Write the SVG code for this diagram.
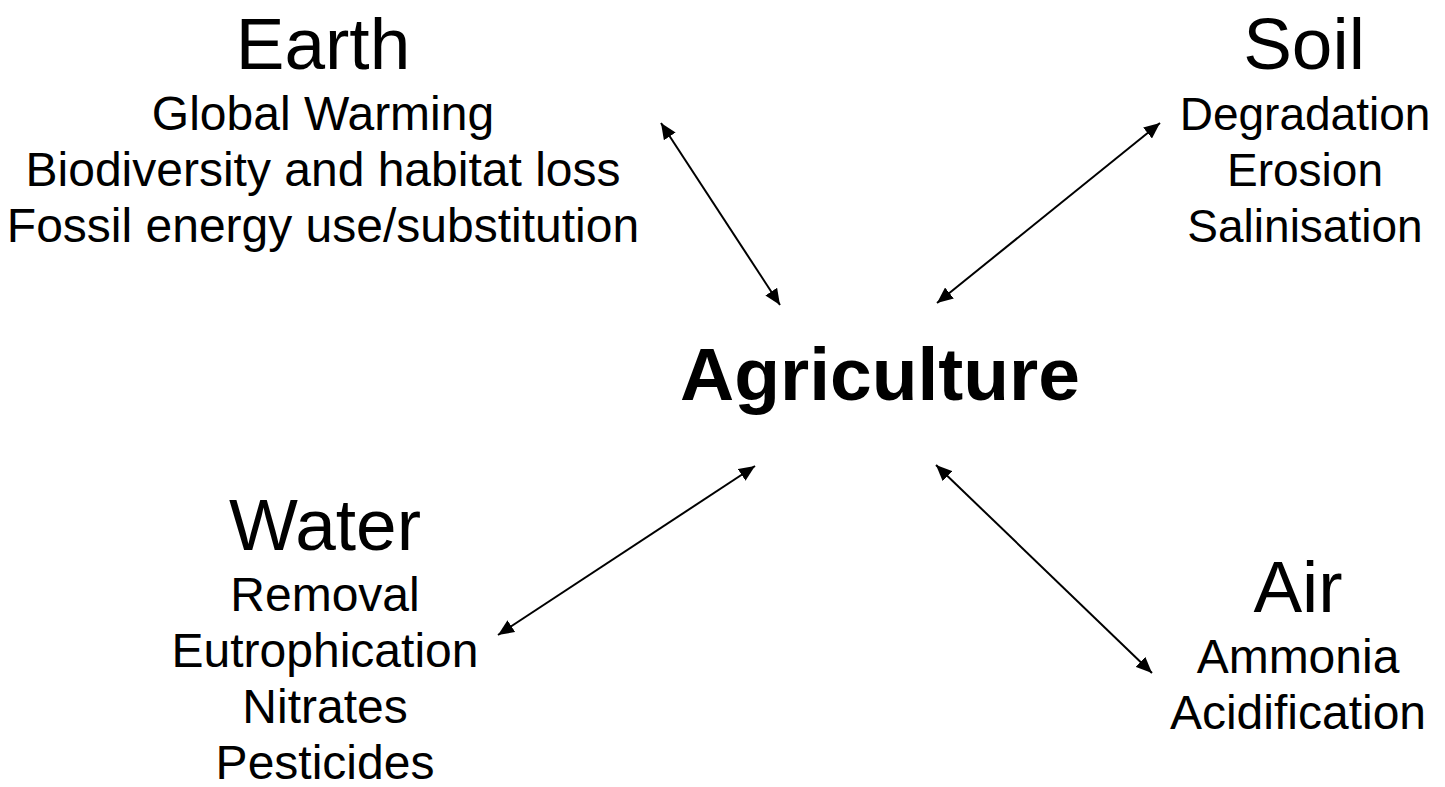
<svg xmlns="http://www.w3.org/2000/svg" width="1445" height="787" viewBox="0 0 1445 787">
<style>
text { font-family: "Liberation Sans", Arial, sans-serif; fill: #000; text-anchor: middle; }
.title { font-size: 73px; }
.item { font-size: 48px; }
.soil-item { font-size: 46px; }
.center { font-size: 75px; font-weight: bold; }
.conn { stroke: #000; stroke-width: 2; fill: none; marker-start: url(#ah); marker-end: url(#ah); }
</style>
<defs>
<marker id="ah" viewBox="0 0 10 10" refX="10" refY="5" markerWidth="8" markerHeight="7" orient="auto-start-reverse" markerUnits="strokeWidth" preserveAspectRatio="none">
<path d="M0,0 L10,5 L0,10 Z" fill="#000"/>
</marker>
</defs>
<rect width="1445" height="787" fill="#fff"/>
<g id="connectors">
<line class="conn" x1="780" y1="305" x2="661" y2="123"/>
<line class="conn" x1="937" y1="303" x2="1160" y2="123"/>
<line class="conn" x1="755" y1="466" x2="498" y2="635"/>
<line class="conn" x1="936" y1="465" x2="1152" y2="673"/>
</g>
<g id="agriculture">
<text class="center" x="880" y="400">Agriculture</text>
</g>
<g id="earth">
<text class="title" x="323" y="69">Earth</text>
<text class="item" x="323" y="130">Global Warming</text>
<text class="item" x="323" y="186">Biodiversity and habitat loss</text>
<text class="item" x="323" y="242">Fossil energy use/substitution</text>
</g>
<g id="soil">
<text class="title" x="1304" y="69">Soil</text>
<text class="soil-item" x="1305" y="130">Degradation</text>
<text class="soil-item" x="1305" y="186">Erosion</text>
<text class="soil-item" x="1305" y="242">Salinisation</text>
</g>
<g id="water">
<text class="title" x="325" y="550">Water</text>
<text class="item" x="325" y="611">Removal</text>
<text class="item" x="325" y="667">Eutrophication</text>
<text class="item" x="325" y="723">Nitrates</text>
<text class="item" x="325" y="779">Pesticides</text>
</g>
<g id="air">
<text class="title" x="1298" y="612">Air</text>
<text class="item" x="1298" y="673">Ammonia</text>
<text class="item" x="1298" y="729">Acidification</text>
</g>
</svg>
